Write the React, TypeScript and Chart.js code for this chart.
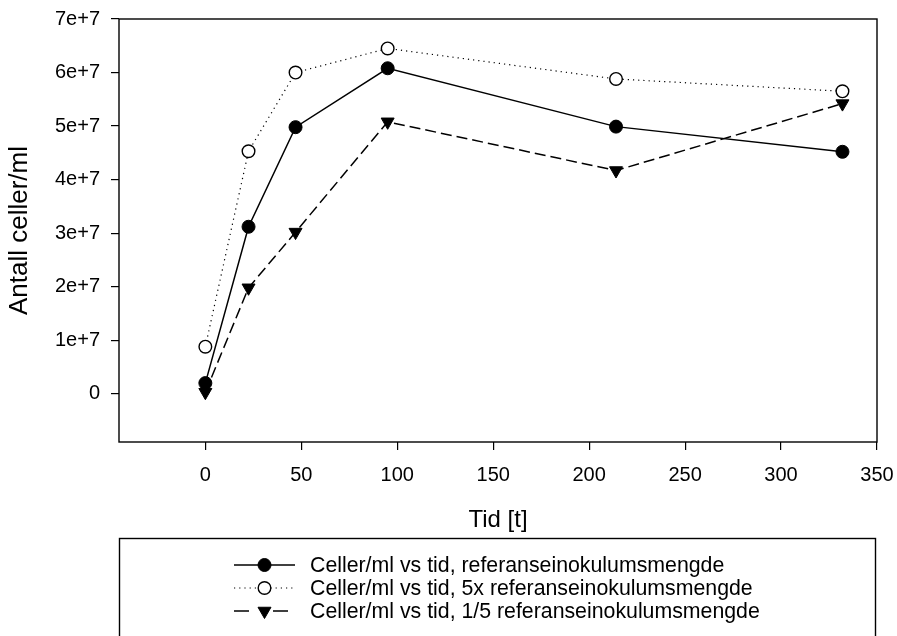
import React, { useEffect, useRef } from "react";
import { Chart, registerables } from "chart.js";

Chart.register(...registerables);

const times = [0, 22.5, 47, 95, 214, 332];
const refSeries = [2.0e6, 3.12e7, 4.98e7, 6.08e7, 4.99e7, 4.52e7];
const fiveXSeries = [8.8e6, 4.53e7, 6.0e7, 6.45e7, 5.88e7, 5.65e7];
const fifthSeries = [0.3e6, 1.98e7, 3.02e7, 5.08e7, 4.17e7, 5.42e7];
const seriesLabels = [
  "Celler/ml vs tid, referanseinokulumsmengde",
  "Celler/ml vs tid, 5x referanseinokulumsmengde",
  "Celler/ml vs tid, 1/5 referanseinokulumsmengde",
];
const xTickValues = [0, 50, 100, 150, 200, 250, 300, 350];
const yTickValues = [0, 1e7, 2e7, 3e7, 4e7, 5e7, 6e7, 7e7];
const yTickLabels = ["0", "1e+7", "2e+7", "3e+7", "4e+7", "5e+7", "6e+7", "7e+7"];
const xTitle = "Tid [t]";
const yTitle = "Antall celler/ml";

const FONT = "'Liberation Sans', Arial, sans-serif";

const toPoints = (ys: number[]) => ys.map((y, i) => ({ x: times[i], y }));

const framePlugin = {
  id: "frame",
  afterDraw(chart: any) {
    const { ctx, chartArea } = chart;
    ctx.save();
    ctx.strokeStyle = "#000";
    ctx.lineWidth = 1.4;
    ctx.strokeRect(chartArea.left, chartArea.top, chartArea.right - chartArea.left, chartArea.bottom - chartArea.top);
    ctx.restore();
  },
};

const legendPlugin = {
  id: "customLegend",
  afterDraw(chart: any) {
    const { ctx } = chart;
    ctx.save();
    ctx.strokeStyle = "#000";
    ctx.lineWidth = 1.4;
    ctx.strokeRect(119.5, 538.5, 756, 120);
    const rows = [565, 588, 611];
    const x0 = 234;
    const x1 = 295;
    const xm = 264.5;
    chart.data.datasets.forEach((ds: any, i: number) => {
      const y = rows[i];
      ctx.save();
      ctx.strokeStyle = "#000";
      ctx.lineWidth = ds.borderWidth;
      ctx.setLineDash(ds.borderDash || []);
      ctx.beginPath();
      if (i === 2) {
        ctx.setLineDash([]);
        ctx.moveTo(x0, y);
        ctx.lineTo(x0 + 15, y);
        ctx.moveTo(x1 - 22, y);
        ctx.lineTo(x1 - 7, y);
      } else {
        ctx.moveTo(x0, y);
        ctx.lineTo(x1, y);
      }
      ctx.stroke();
      ctx.restore();
      ctx.save();
      ctx.setLineDash([]);
      ctx.fillStyle = ds.pointBackgroundColor;
      ctx.strokeStyle = ds.pointBorderColor;
      ctx.lineWidth = ds.pointBorderWidth;
      if (ds.pointStyle === "triangle") {
        const r = ds.pointRadius;
        const h = 1.5 * r;
        const w = r * Math.sqrt(3);
        ctx.beginPath();
        ctx.moveTo(xm - w / 2, y - r / 2);
        ctx.lineTo(xm + w / 2, y - r / 2);
        ctx.lineTo(xm, y - r / 2 + h);
        ctx.closePath();
        ctx.fill();
        ctx.stroke();
      } else {
        ctx.beginPath();
        ctx.arc(xm, y, ds.pointRadius, 0, Math.PI * 2);
        ctx.fill();
        ctx.stroke();
      }
      ctx.restore();
      ctx.fillStyle = "#000";
      ctx.font = `21.3px ${FONT}`;
      ctx.textBaseline = "middle";
      ctx.textAlign = "left";
      ctx.fillText(ds.label, 310, y + 1);
    });
    ctx.restore();
  },
};

export default function App() {
  const ref = useRef<HTMLCanvasElement | null>(null);

  useEffect(() => {
    if (!ref.current) return;
    const chart = new Chart(ref.current, {
      type: "scatter",
      data: {
        datasets: [
          {
            label: seriesLabels[0],
            data: toPoints(refSeries),
            showLine: true,
            borderColor: "#000",
            borderWidth: 1.5,
            pointStyle: "circle",
            pointRadius: 6.5,
            pointBackgroundColor: "#000",
            pointBorderColor: "#000",
            pointBorderWidth: 1,
          },
          {
            label: seriesLabels[1],
            data: toPoints(fiveXSeries),
            showLine: true,
            borderColor: "#000",
            borderWidth: 1.2,
            borderDash: [1.2, 4],
            pointStyle: "circle",
            pointRadius: 6.3,
            pointBackgroundColor: "#fff",
            pointBorderColor: "#000",
            pointBorderWidth: 1.4,
          },
          {
            label: seriesLabels[2],
            data: toPoints(fifthSeries),
            showLine: true,
            borderColor: "#000",
            borderWidth: 1.5,
            borderDash: [11, 5],
            pointStyle: "triangle",
            rotation: 180,
            pointRotation: 180,
            pointRadius: 7.5,
            pointBackgroundColor: "#000",
            pointBorderColor: "#000",
            pointBorderWidth: 1,
          },
        ] as any,
      },
      options: {
        animation: false,
        responsive: false,
        devicePixelRatio: 1,
        layout: { padding: { left: 0, right: 20, top: 19, bottom: 0 } },
        plugins: {
          legend: { display: false },
          tooltip: { enabled: false },
        },
        scales: {
          x: {
            type: "linear",
            min: -45,
            max: 350,
            afterBuildTicks: (s: any) => {
              s.ticks = xTickValues.map((value) => ({ value }));
            },
            afterFit: (s: any) => {
              s.height = 194;
              s.paddingLeft = 0;
              s.paddingRight = 0;
            },
            border: { display: false },
            grid: {
              drawOnChartArea: false,
              drawTicks: true,
              tickLength: 8,
              color: "#000",
              lineWidth: 1.2,
            },
            ticks: {
              color: "#000",
              padding: 13,
              maxRotation: 0,
              autoSkip: false,
              font: { family: FONT, size: 20 },
              callback: (v: any) => String(v),
            },
            title: {
              display: true,
              text: xTitle,
              color: "#000",
              font: { family: FONT, size: 24 },
              padding: { top: 0, bottom: 101 },
            },
          },
          y: {
            type: "linear",
            min: -0.9e7,
            max: 7e7,
            afterBuildTicks: (s: any) => {
              s.ticks = yTickValues.map((value) => ({ value }));
            },
            afterFit: (s: any) => {
              s.width = 119;
              s.paddingTop = 0;
              s.paddingBottom = 0;
            },
            border: { display: false },
            grid: {
              drawOnChartArea: false,
              drawTicks: true,
              tickLength: 8,
              color: "#000",
              lineWidth: 1.2,
            },
            ticks: {
              color: "#000",
              padding: 11,
              autoSkip: false,
              font: { family: FONT, size: 20 },
              callback: (v: any, i: number) => yTickLabels[i],
            },
            title: {
              display: true,
              text: yTitle,
              color: "#000",
              font: { family: FONT, size: 26 },
              padding: { top: 4, bottom: 0 },
            },
          },
        },
      } as any,
      plugins: [framePlugin, legendPlugin],
    });
    return () => chart.destroy();
  }, []);

  return (
    <div style={{ position: "absolute", left: 0, top: 0, width: 897, height: 636, background: "#fff" }}>
      <canvas ref={ref} width={897} height={636} />
    </div>
  );
}
